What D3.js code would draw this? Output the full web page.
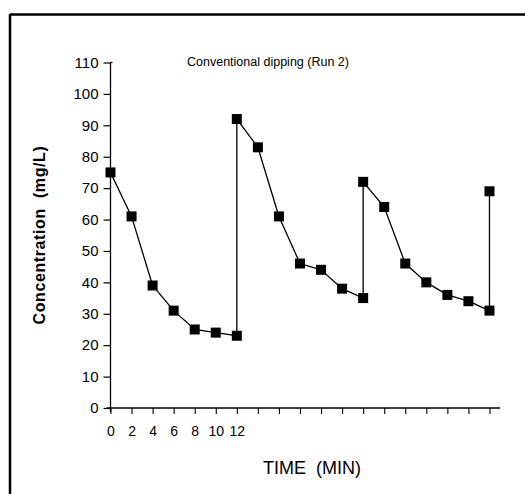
<!DOCTYPE html>
<html>
<head>
<meta charset="utf-8">
<script src="https://cdn.jsdelivr.net/npm/d3@7"></script>
<style>
  html, body { margin: 0; padding: 0; background: #fff; }
  svg { display: block; }
</style>
</head>
<body>
<script>
// ---- Data ----
const times = [0, 2, 4, 6, 8, 10, 12, 12, 14, 16, 18, 20, 22, 24, 24, 26, 28, 30, 32, 34, 36, 36];
const concentration = [75, 61, 39, 31, 25, 24, 23, 92, 83, 61, 46, 44, 38, 35, 72, 64, 46, 40, 36, 34, 31, 69];
const yTicks = [0, 10, 20, 30, 40, 50, 60, 70, 80, 90, 100, 110];
const xTicks = [0, 2, 4, 6, 8, 10, 12, 14, 16, 18, 20, 22, 24, 26, 28, 30, 32, 34, 36];
const xTickLabels = ["0", "2", "4", "6", "8", "10", "12"];
const title = "Conventional dipping (Run 2)";
const xTitle = "TIME  (MIN)";
const yTitle = "Concentration  (mg/L)";

const W = 525, H = 494;
const svg = d3.select("body").append("svg").attr("width", W).attr("height", H);

// frame (top and left borders)
svg.append("line").attr("x1", 10).attr("x2", W).attr("y1", 14.5).attr("y2", 14.5)
  .attr("stroke", "#000").attr("stroke-width", 2.5);
svg.append("line").attr("x1", 10).attr("x2", 10).attr("y1", 14).attr("y2", H)
  .attr("stroke", "#000").attr("stroke-width", 2.5);

const x = d3.scaleLinear().domain([0, 37]).range([110.5, 500]);
const y = d3.scaleLinear().domain([0, 110]).range([408, 62.5]);

const font = "'Liberation Sans', Arial, Helvetica, sans-serif";

// y axis
const yAxis = d3.axisLeft(y).tickValues(yTicks).tickSize(7).tickPadding(5).tickSizeOuter(0);
const gy = svg.append("g").attr("transform", `translate(${x(0)},0)`).call(yAxis);
gy.select(".domain").attr("stroke-width", 1.3).attr("d", `M0,${y(110)}V${y(0) + 4}`);
gy.selectAll(".tick line").attr("stroke-width", 1.2);
gy.selectAll("text").attr("font-family", font).attr("font-size", 15).attr("fill", "#000");
gy.append("line").attr("x1", 0).attr("x2", 2).attr("y1", y(110)).attr("y2", y(110)).attr("stroke", "#000").attr("stroke-width", 1.2);

// x axis
const xAxis = d3.axisBottom(x).tickValues(xTicks).tickSize(6).tickPadding(12).tickSizeOuter(0)
  .tickFormat(d => { const i = xTicks.indexOf(d); return i < xTickLabels.length ? xTickLabels[i] : ""; });
const gx = svg.append("g").attr("transform", `translate(0,${y(0)})`).call(xAxis);
gx.select(".domain").attr("stroke-width", 1.6).attr("d", `M${x(0) - 4},0H${x(37)}`);
gx.selectAll(".tick line").attr("stroke-width", 1.1);
gx.selectAll("text").attr("font-family", font).attr("font-size", 14).attr("fill", "#000");

// line
const pts = times.map((t, i) => [t, concentration[i]]);
svg.append("path")
  .attr("d", d3.line().x(d => x(d[0])).y(d => y(d[1]))(pts))
  .attr("fill", "none").attr("stroke", "#000").attr("stroke-width", 1.3);

// markers
const ms = 10;
svg.append("g").selectAll("rect").data(pts).join("rect")
  .attr("x", d => x(d[0]) - ms / 2).attr("y", d => y(d[1]) - ms / 2)
  .attr("width", ms).attr("height", ms).attr("fill", "#000");

// titles
svg.append("text").attr("x", 268).attr("y", 66).attr("text-anchor", "middle")
  .attr("font-family", font).attr("font-size", 12.5).attr("fill", "#000").text(title);
svg.append("text").attr("x", 312).attr("y", 474).attr("text-anchor", "middle")
  .attr("font-family", font).attr("font-size", 18).attr("fill", "#000")
  .style("white-space", "pre").text(xTitle);
svg.append("text").attr("transform", "translate(45,235) rotate(-90)").attr("text-anchor", "middle")
  .attr("font-family", font).attr("font-size", 16).attr("font-weight", "bold").attr("letter-spacing", 0.6)
  .attr("fill", "#000").style("white-space", "pre").text(yTitle);
</script>
</body>
</html>
